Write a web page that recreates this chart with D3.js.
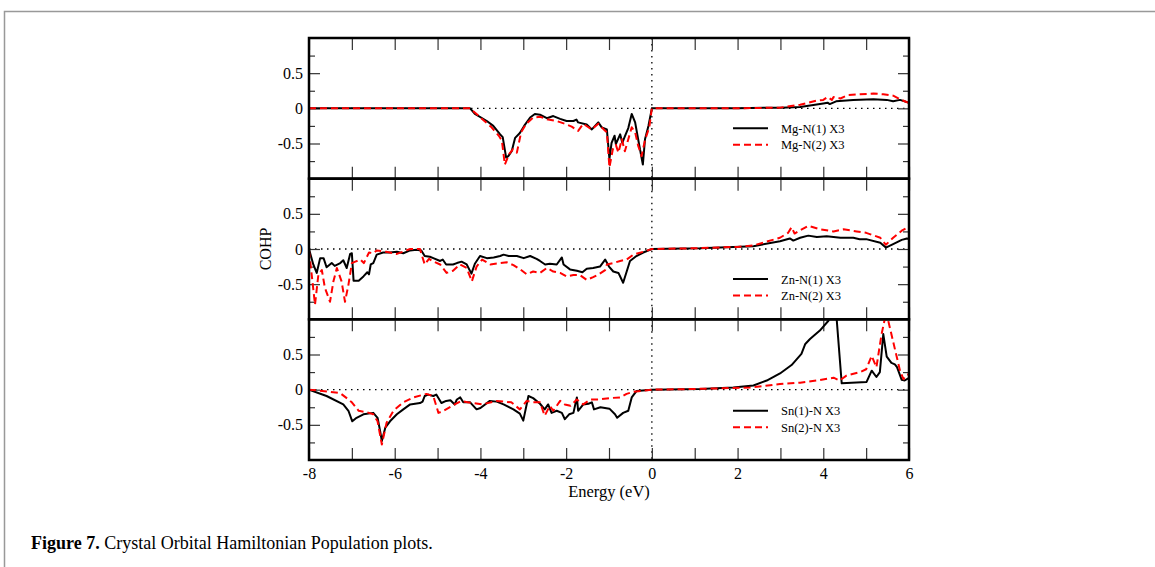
<!DOCTYPE html>
<html>
<head>
<meta charset="utf-8">
<script src="https://cdn.jsdelivr.net/npm/d3@7"></script>
<style>
  body { margin: 0; background: #fff; }
  svg text { font-family: "Liberation Serif", "Times New Roman", serif; }
</style>
</head>
<body>
<div id="fig"></div>
<script>
// COHP curves, [energy (eV), COHP]
var mgN1 = [[-8,0],[-4.24,0],[-4.13,-0.08],[-3.85,-0.18],[-3.70,-0.25],[-3.54,-0.37],[-3.48,-0.41],[-3.40,-0.70],[-3.35,-0.68],[-3.27,-0.61],[-3.19,-0.42],[-3.08,-0.35],[-2.98,-0.25],[-2.84,-0.13],[-2.73,-0.08],[-2.61,-0.09],[-2.45,-0.14],[-2.30,-0.11],[-2.14,-0.15],[-1.99,-0.18],[-1.83,-0.18],[-1.76,-0.16],[-1.72,-0.20],[-1.52,-0.23],[-1.40,-0.30],[-1.25,-0.20],[-1.17,-0.27],[-1.05,-0.30],[-0.99,-0.72],[-0.94,-0.49],[-0.87,-0.39],[-0.84,-0.51],[-0.74,-0.37],[-0.69,-0.49],[-0.63,-0.40],[-0.55,-0.28],[-0.47,-0.08],[-0.39,-0.20],[-0.32,-0.44],[-0.21,-0.80],[-0.16,-0.44],[-0.08,-0.25],[0,0],[1,0],[2,0],[2.7,0.01],[3.0,0.01],[3.46,0.02],[4.0,0.07],[4.1,0.08],[4.15,0.06],[4.3,0.10],[4.7,0.12],[5.17,0.13],[5.48,0.12],[5.63,0.10],[5.79,0.12],[6,0.08]];
var mgN2 = [[-8,0],[-4.24,0],[-4.0,-0.13],[-3.74,-0.27],[-3.57,-0.39],[-3.50,-0.46],[-3.43,-0.80],[-3.33,-0.65],[-3.24,-0.58],[-3.15,-0.63],[-3.05,-0.34],[-2.93,-0.22],[-2.77,-0.13],[-2.61,-0.12],[-2.42,-0.16],[-2.22,-0.18],[-2.03,-0.22],[-1.87,-0.26],[-1.72,-0.32],[-1.60,-0.22],[-1.40,-0.30],[-1.25,-0.22],[-1.09,-0.32],[-1.05,-0.34],[-0.99,-0.84],[-0.91,-0.58],[-0.84,-0.52],[-0.78,-0.63],[-0.70,-0.44],[-0.63,-0.61],[-0.55,-0.44],[-0.47,-0.27],[-0.39,-0.34],[-0.32,-0.53],[-0.24,-0.68],[-0.16,-0.45],[-0.06,-0.27],[0,0],[1,0],[2,0],[2.5,0.005],[2.99,0.01],[3.46,0.05],[3.85,0.11],[4.0,0.12],[4.1,0.16],[4.2,0.12],[4.24,0.16],[4.4,0.14],[4.58,0.19],[4.86,0.20],[5.17,0.21],[5.4,0.20],[5.63,0.18],[5.79,0.13],[5.94,0.09],[6,0.08]];
var znN1 = [[-8,0],[-7.90,-0.22],[-7.82,-0.34],[-7.74,-0.13],[-7.66,-0.13],[-7.59,-0.26],[-7.47,-0.20],[-7.40,-0.24],[-7.27,-0.20],[-7.20,-0.16],[-7.12,-0.27],[-7.04,-0.07],[-7.00,-0.06],[-6.96,-0.45],[-6.84,-0.45],[-6.73,-0.39],[-6.64,-0.33],[-6.60,-0.36],[-6.56,-0.22],[-6.50,-0.20],[-6.42,-0.08],[-6.27,-0.05],[-6.11,-0.05],[-5.95,-0.04],[-5.80,-0.06],[-5.64,-0.02],[-5.49,-0.01],[-5.38,-0.02],[-5.30,-0.10],[-5.18,-0.11],[-5.10,-0.13],[-4.94,-0.17],[-4.88,-0.15],[-4.80,-0.22],[-4.64,-0.22],[-4.55,-0.20],[-4.44,-0.18],[-4.32,-0.22],[-4.21,-0.35],[-4.13,-0.21],[-4.01,-0.10],[-3.85,-0.13],[-3.69,-0.12],[-3.54,-0.10],[-3.46,-0.08],[-3.34,-0.10],[-3.15,-0.10],[-2.99,-0.13],[-2.84,-0.10],[-2.69,-0.14],[-2.61,-0.17],[-2.49,-0.22],[-2.38,-0.21],[-2.22,-0.22],[-2.10,-0.12],[-2.06,-0.22],[-1.91,-0.29],[-1.75,-0.31],[-1.62,-0.33],[-1.52,-0.28],[-1.37,-0.27],[-1.21,-0.25],[-1.09,-0.15],[-1.0,-0.25],[-0.90,-0.32],[-0.78,-0.34],[-0.67,-0.48],[-0.51,-0.17],[-0.36,-0.10],[-0.20,-0.05],[0,0],[1.12,0.01],[2.37,0.04],[2.99,0.11],[3.22,0.15],[3.3,0.12],[3.46,0.16],[3.65,0.19],[3.85,0.17],[4.08,0.18],[4.4,0.16],[4.7,0.16],[4.85,0.14],[5.0,0.14],[5.33,0.09],[5.46,0.02],[5.63,0.07],[5.83,0.13],[5.95,0.15],[6,0.14]];
var znN2 = [[-8,-0.02],[-7.86,-0.79],[-7.78,-0.36],[-7.70,-0.30],[-7.63,-0.55],[-7.51,-0.75],[-7.43,-0.46],[-7.35,-0.27],[-7.24,-0.46],[-7.16,-0.75],[-7.08,-0.51],[-7.00,-0.20],[-6.92,-0.18],[-6.80,-0.15],[-6.72,-0.20],[-6.60,-0.05],[-6.50,-0.06],[-6.42,-0.02],[-6.2,-0.04],[-5.95,-0.07],[-5.64,0],[-5.41,0],[-5.30,-0.22],[-5.20,-0.14],[-5.09,-0.18],[-4.94,-0.22],[-4.79,-0.34],[-4.64,-0.31],[-4.48,-0.22],[-4.32,-0.27],[-4.20,-0.46],[-4.09,-0.25],[-3.96,-0.15],[-3.77,-0.22],[-3.54,-0.20],[-3.38,-0.19],[-3.23,-0.23],[-3.07,-0.29],[-2.92,-0.36],[-2.77,-0.32],[-2.61,-0.34],[-2.45,-0.27],[-2.30,-0.32],[-2.14,-0.34],[-1.99,-0.39],[-1.83,-0.37],[-1.68,-0.37],[-1.52,-0.44],[-1.37,-0.40],[-1.24,-0.36],[-1.09,-0.30],[-1.05,-0.22],[-0.9,-0.20],[-0.74,-0.17],[-0.59,-0.15],[-0.43,-0.08],[-0.20,-0.04],[0,0],[1,0.01],[2,0.03],[2.37,0.05],[2.99,0.16],[3.18,0.23],[3.26,0.31],[3.33,0.22],[3.65,0.33],[3.93,0.28],[4.24,0.25],[4.47,0.28],[4.78,0.25],[5.0,0.23],[5.33,0.16],[5.46,0.06],[5.63,0.16],[5.83,0.26],[5.95,0.30],[6,0.28]];
var snN1 = [[-8,0],[-7.59,-0.09],[-7.2,-0.21],[-7.08,-0.30],[-6.99,-0.45],[-6.89,-0.40],[-6.73,-0.35],[-6.50,-0.33],[-6.40,-0.40],[-6.34,-0.59],[-6.30,-0.73],[-6.22,-0.54],[-6.11,-0.45],[-5.95,-0.35],[-5.80,-0.28],[-5.64,-0.21],[-5.41,-0.19],[-5.35,-0.17],[-5.30,-0.09],[-5.22,-0.07],[-5.10,-0.09],[-5.03,-0.07],[-4.91,-0.19],[-4.80,-0.16],[-4.70,-0.15],[-4.60,-0.21],[-4.55,-0.14],[-4.47,-0.11],[-4.40,-0.18],[-4.24,-0.18],[-4.09,-0.28],[-4.0,-0.26],[-3.78,-0.16],[-3.62,-0.17],[-3.46,-0.21],[-3.23,-0.28],[-3.08,-0.34],[-3.0,-0.44],[-2.88,-0.09],[-2.77,-0.12],[-2.61,-0.20],[-2.50,-0.28],[-2.42,-0.21],[-2.34,-0.33],[-2.22,-0.30],[-2.10,-0.33],[-2.03,-0.42],[-1.93,-0.35],[-1.83,-0.33],[-1.75,-0.11],[-1.72,-0.30],[-1.60,-0.21],[-1.48,-0.20],[-1.40,-0.18],[-1.35,-0.28],[-1.20,-0.25],[-0.99,-0.27],[-0.86,-0.35],[-0.81,-0.40],[-0.67,-0.33],[-0.55,-0.30],[-0.47,-0.11],[-0.36,-0.02],[0,0],[1.12,0.01],[1.9,0.03],[2.37,0.06],[2.68,0.13],[2.99,0.23],[3.26,0.35],[3.49,0.51],[3.58,0.65],[3.69,0.72],[3.92,0.84],[4.12,0.98],[4.18,1.15],[4.30,1.10],[4.43,0.09],[5.01,0.11],[5.13,0.27],[5.24,0.18],[5.32,0.25],[5.40,0.79],[5.48,0.47],[5.59,0.38],[5.67,0.36],[5.72,0.32],[5.83,0.14],[5.90,0.13],[5.98,0.16],[6,0.16]];
var snN2 = [[-8,0],[-7.51,-0.03],[-7.27,-0.05],[-7.12,-0.12],[-7.0,-0.18],[-6.84,-0.30],[-6.6,-0.33],[-6.5,-0.35],[-6.40,-0.45],[-6.30,-0.78],[-6.19,-0.47],[-6.03,-0.30],[-5.80,-0.18],[-5.56,-0.11],[-5.26,-0.06],[-5.10,-0.09],[-4.98,-0.33],[-4.86,-0.30],[-4.6,-0.21],[-4.45,-0.16],[-4.3,-0.18],[-3.96,-0.21],[-3.62,-0.16],[-3.28,-0.18],[-3.08,-0.28],[-2.92,-0.16],[-2.77,-0.18],[-2.61,-0.18],[-2.50,-0.37],[-2.38,-0.23],[-2.30,-0.30],[-2.14,-0.16],[-2.03,-0.21],[-1.90,-0.23],[-1.75,-0.14],[-1.60,-0.21],[-1.44,-0.14],[-1.25,-0.14],[-0.99,-0.12],[-0.74,-0.11],[-0.59,-0.06],[-0.43,-0.03],[0,0],[1,0.01],[2.29,0.03],[2.99,0.08],[3.46,0.10],[3.85,0.13],[4.24,0.17],[4.38,0.13],[4.54,0.20],[4.86,0.25],[5.0,0.29],[5.13,0.48],[5.24,0.32],[5.36,0.79],[5.44,1.02],[5.50,1.02],[5.79,0.27],[5.87,0.15],[5.94,0.21],[6,0.22]];

var panelSeries = [[mgN1, mgN2], [znN1, znN2], [snN1, snN2]];
var legendLabels = [["Mg-N(1) X3", "Mg-N(2) X3"], ["Zn-N(1) X3", "Zn-N(2) X3"], ["Sn(1)-N X3", "Sn(2)-N X3"]];
var xTickLabels = [-8, -6, -4, -2, 0, 2, 4, 6];
var yTickLabels = [-0.5, 0, 0.5];
var yMinorTicks = [-0.75, -0.25, 0.25, 0.75];
var xMinorTicks = [-7, -5, -3, -1, 1, 3, 5];

var width = 1155, height = 567;
var plotLeft = 309, plotRight = 909, plotTop = 38, plotBottom = 460;
var panelH = (plotBottom - plotTop) / 3;
var legendDy = [20, 30, 21]; // first legend row below zero line, per panel
var colors = ["black", "red"];
var dashes = [null, "7,4"];

// plain hyphen for negatives, like the original
function fmt(v) { return String(v); }

var svg = d3.select("#fig").append("svg").attr("width", width).attr("height", height);

// page frame
svg.append("path").attr("d", "M4.5,567V11.5H1155")
  .attr("fill", "none").attr("stroke", "#999").attr("stroke-width", 1.5);

var x = d3.scaleLinear().domain([-8, 6]).range([plotLeft, plotRight]);

function drawPanel(i) {
  var y0 = plotTop + i * panelH;
  var y = d3.scaleLinear().domain([-1, 1]).range([y0 + panelH, y0]);
  var g = svg.append("g");

  g.append("clipPath").attr("id", "clip" + i).append("rect")
    .attr("x", plotLeft).attr("y", y0).attr("width", plotRight - plotLeft).attr("height", panelH);

  // dotted zero lines
  g.append("line").attr("x1", plotLeft).attr("x2", plotRight).attr("y1", y(0)).attr("y2", y(0))
    .attr("stroke", "black").attr("stroke-width", 1.3).attr("stroke-dasharray", "1.5,4.5");
  g.append("line").attr("x1", x(0)).attr("x2", x(0)).attr("y1", y0).attr("y2", y0 + panelH)
    .attr("stroke", "black").attr("stroke-width", 1.3).attr("stroke-dasharray", "1.5,4.5");

  // ticks pointing inward on every side
  var allX = xTickLabels.concat(xMinorTicks);
  g.append("g").attr("transform", "translate(0," + (y0 + panelH) + ")")
    .call(d3.axisBottom(x).tickValues(xTickLabels).tickSize(-12).tickPadding(8)
      .tickFormat(i == 2 ? fmt : ""));
  g.append("g").attr("transform", "translate(0," + (y0 + panelH) + ")")
    .call(d3.axisBottom(x).tickValues(xMinorTicks).tickSize(-12).tickFormat(""));
  g.append("g").attr("transform", "translate(0," + y0 + ")")
    .call(d3.axisTop(x).tickValues(allX).tickSize(-12).tickFormat(""));
  g.append("g").attr("transform", "translate(" + plotLeft + ",0)")
    .call(d3.axisLeft(y).tickValues(yTickLabels).tickSize(-11).tickPadding(6).tickFormat(fmt));
  g.append("g").attr("transform", "translate(" + plotLeft + ",0)")
    .call(d3.axisLeft(y).tickValues(yMinorTicks).tickSize(-6).tickFormat(""));
  g.append("g").attr("transform", "translate(" + plotRight + ",0)")
    .call(d3.axisRight(y).tickValues(yTickLabels).tickSize(-11).tickFormat(""));
  g.append("g").attr("transform", "translate(" + plotRight + ",0)")
    .call(d3.axisRight(y).tickValues(yMinorTicks).tickSize(-6).tickFormat(""));
  g.selectAll(".domain").remove();
  g.selectAll(".tick line").attr("stroke", "#333").attr("stroke-width", 1.2);
  g.selectAll(".tick text").attr("font-family", "Liberation Serif").attr("font-size", 16).attr("fill", "black");

  // curves
  var line = d3.line().x(function (d) { return x(d[0]); }).y(function (d) { return y(d[1]); });
  panelSeries[i].forEach(function (s, k) {
    g.append("path").datum(s).attr("d", line)
      .attr("clip-path", "url(#clip" + i + ")")
      .attr("fill", "none").attr("stroke", colors[k]).attr("stroke-width", 2)
      .attr("stroke-linejoin", "round")
      .attr("stroke-dasharray", dashes[k]);
  });

  // legend
  legendLabels[i].forEach(function (t, k) {
    var ly = y(0) + legendDy[i] + k * 16.5;
    g.append("line").attr("x1", 733).attr("x2", 768).attr("y1", ly).attr("y2", ly)
      .attr("stroke", colors[k]).attr("stroke-width", 2).attr("stroke-dasharray", dashes[k]);
    g.append("text").attr("x", 781).attr("y", ly + 4.5)
      .attr("font-size", 12.5).attr("fill", "black").text(t);
  });

  // frame
  g.append("rect").attr("x", plotLeft).attr("y", y0).attr("width", plotRight - plotLeft).attr("height", panelH)
    .attr("fill", "none").attr("stroke", "black").attr("stroke-width", 2.5);
}

for (var i = 0; i < 3; i++) drawPanel(i);

svg.append("text").attr("x", (plotLeft + plotRight) / 2).attr("y", 497)
  .attr("text-anchor", "middle").attr("font-size", 16.5).text("Energy (eV)");
svg.append("text").attr("transform", "translate(271," + (plotTop + 1.5 * panelH) + ") rotate(-90)")
  .attr("text-anchor", "middle").attr("font-size", 16).text("COHP");

var cap = svg.append("text").attr("x", 31).attr("y", 549).attr("font-size", 18);
cap.append("tspan").attr("font-weight", "bold").text("Figure 7.");
cap.append("tspan").text(" Crystal Orbital Hamiltonian Population plots.");
</script>
</body>
</html>
